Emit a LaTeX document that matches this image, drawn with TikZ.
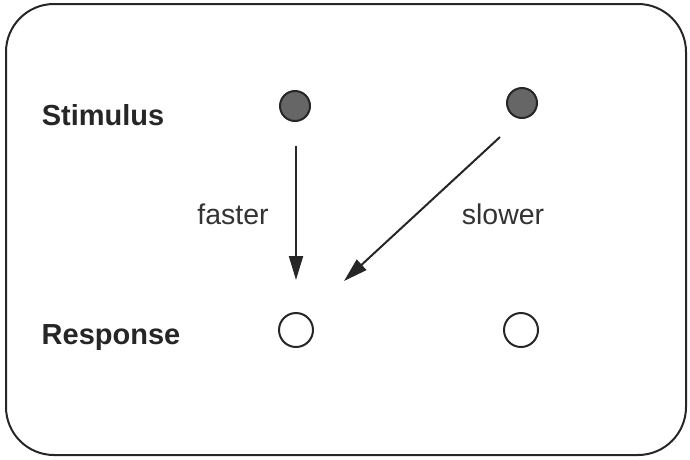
\documentclass[tikz,border=0pt]{standalone}
\usepackage{fontspec}
\setmainfont{Liberation Sans}
\usetikzlibrary{arrows.meta}
\begin{document}
\begin{tikzpicture}[x=1pt,y=-1pt,
  frame/.style={draw=black!85,line width=2pt,rounded corners=48pt},
  stim/.style={circle,draw=black!85,line width=2pt,fill=black!60,minimum size=30pt,inner sep=0pt},
  resp/.style={circle,draw=black!85,line width=2pt,fill=white,minimum size=34pt,inner sep=0pt},
  lbl/.style={font=\fontsize{29}{31}\selectfont\bfseries,text=black!85},
  speed/.style={font=\fontsize{28.5}{30}\selectfont,text=black!80},
  link/.style={draw=black!85,line width=2pt,-{Triangle[length=24pt,width=14pt]}}]
\useasboundingbox (0,0) rectangle (690,459);
\draw[frame] (6,4) rectangle (686,455);
\node[lbl] (stimlabel) at (103,115) {Stimulus};
\node[lbl] (resplabel) at (111,338) {Response};
\node[stim] (s1) at (295,106) {};
\node[stim] (s2) at (522,103) {};
\node[resp] (r1) at (296,330) {};
\node[resp] (r2) at (521,330) {};
\coordinate (a1s) at (296,146);
\coordinate (a1e) at (296,280);
\coordinate (a2s) at (500,137);
\coordinate (a2e) at (344,281);
\draw[link] (a1s) -- (a1e);
\draw[link] (a2s) -- (a2e);
\node[speed] (fast) at (233,214) {faster};
\node[speed] (slow) at (503,214) {slower};
\end{tikzpicture}
\end{document}
